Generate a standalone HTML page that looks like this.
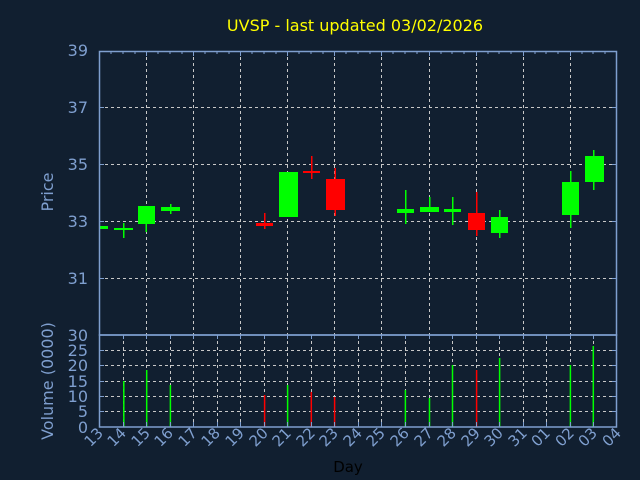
<!DOCTYPE html>
<html><head><meta charset="utf-8"><style>
html,body{margin:0;padding:0;background:#111f30;}
svg{display:block;font-family:"DejaVu Sans","Liberation Sans",sans-serif;}
</style></head><body>
<svg width="640" height="480" viewBox="0 0 640 480" xmlns="http://www.w3.org/2000/svg">
<rect width="640" height="480" fill="#111f30"/>
<text x="355" y="31" fill="#ffff00" font-size="16" text-anchor="middle">UVSP - last updated 03/02/2026</text>
<g stroke="#c8c8c8" stroke-width="1" stroke-dasharray="3,3" fill="none">
<path d="M99 107.5H617M99 164.5H617M99 221.5H617M99 278.5H617"/>
<path d="M146.5 51V335M193.5 51V335M240.5 51V335M287.5 51V335M334.5 51V335M381.5 51V335M429.5 51V335M476.5 51V335M523.5 51V335M570.5 51V335"/>
<path d="M99 350.5H617M99 365.5H617M99 381.5H617M99 396.5H617M99 411.5H617"/>
<path d="M123.5 335V427M146.5 335V427M170.5 335V427M193.5 335V427M217.5 335V427M240.5 335V427M264.5 335V427M287.5 335V427M311.5 335V427M334.5 335V427M358.5 335V427M381.5 335V427M405.5 335V427M429.5 335V427M452.5 335V427M476.5 335V427M499.5 335V427M523.5 335V427M546.5 335V427M570.5 335V427M593.5 335V427"/>
</g>
<!-- candles -->
<g fill="#00ff00">
<rect x="99" y="226" width="9" height="3"/>
<rect x="114" y="228" width="19" height="2"/><rect x="123" y="223" width="1.5" height="15"/>
<rect x="138" y="206" width="17" height="18"/><rect x="145.5" y="206" width="1.5" height="26"/>
<rect x="161" y="207" width="19" height="4"/><rect x="170" y="204" width="1.5" height="10"/>
<rect x="279" y="172" width="19" height="45"/>
<rect x="397" y="209" width="17" height="4"/><rect x="405" y="190" width="1.5" height="34"/>
<rect x="420" y="207" width="19" height="5"/><rect x="429" y="197" width="1.5" height="15"/>
<rect x="444" y="209" width="17" height="3"/><rect x="452" y="197" width="1.5" height="28"/>
<rect x="491" y="217" width="17" height="16"/><rect x="499" y="210" width="1.5" height="28"/>
<rect x="562" y="182" width="17" height="33"/><rect x="570" y="171" width="1.5" height="57"/>
<rect x="585" y="156" width="19" height="26"/><rect x="593" y="150" width="1.5" height="40"/>
</g>
<g fill="#ff0000">
<rect x="256" y="223" width="17" height="3"/><rect x="264" y="213" width="1.5" height="16"/>
<rect x="303" y="171" width="17" height="2"/><rect x="311" y="156" width="1.5" height="23"/>
<rect x="326" y="179" width="19" height="31"/><rect x="334.5" y="168" width="1.5" height="48"/>
<rect x="468" y="213" width="17" height="17"/><rect x="476" y="192" width="1.5" height="44"/>
</g>
<!-- volume -->
<g stroke-width="1.5">
<g stroke="#00ff00">
<path d="M123.8 427V381M146.7 427V370M170.4 427V385M287.6 427V385M405.4 427V390M429.5 427V398M452.5 427V365M499.6 427V358M570.4 427V365M593.3 427V346"/>
</g>
<g stroke="#ff0000">
<path d="M264.6 427V395M311.3 427V392M334.6 427V397M476.6 427V370"/>
</g>
</g>
<!-- frames -->
<g stroke="#7f9fcf" stroke-width="1.5" fill="none">
<rect x="99.5" y="51.5" width="517" height="283.5"/>
<rect x="99.5" y="335" width="517" height="92"/>
</g>
<g stroke="#7f9fcf" stroke-width="1">
<path d="M99 107.5h5M99 164.5h5M99 221.5h5M99 278.5h5M99 350.5h5M99 365.5h5M99 381.5h5M99 396.5h5M99 411.5h5"/>
<path d="M612 107.5h5M612 164.5h5M612 221.5h5M612 278.5h5M612 350.5h5M612 365.5h5M612 381.5h5M612 396.5h5M612 411.5h5"/>
<path d="M111 51v3M123 51v3M135 51v3M146.5 51v5M158 51v3M170 51v3M182 51v3M193.5 51v5M205 51v3M217 51v3M229 51v3M240.5 51v5M252 51v3M264 51v3M276 51v3M287.5 51v5M299 51v3M311 51v3M323 51v3M334.5 51v5M346 51v3M358 51v3M370 51v3M381.5 51v5M393 51v3M405 51v3M417 51v3M429.5 51v5M441 51v3M452 51v3M464 51v3M476.5 51v5M488 51v3M499 51v3M511 51v3M523.5 51v5M535 51v3M546 51v3M558 51v3M570.5 51v5M582 51v3M593 51v3M605 51v3"/>
<path d="M123.5 427v-5M146.5 427v-5M170.5 427v-5M193.5 427v-5M217.5 427v-5M240.5 427v-5M264.5 427v-5M287.5 427v-5M311.5 427v-5M334.5 427v-5M358.5 427v-5M381.5 427v-5M405.5 427v-5M429.5 427v-5M452.5 427v-5M476.5 427v-5M499.5 427v-5M523.5 427v-5M546.5 427v-5M570.5 427v-5M593.5 427v-5"/>
<path d="M123.5 335v4M146.5 335v4M170.5 335v4M193.5 335v4M217.5 335v4M240.5 335v4M264.5 335v4M287.5 335v4M311.5 335v4M334.5 335v4M358.5 335v4M381.5 335v4M405.5 335v4M429.5 335v4M452.5 335v4M476.5 335v4M499.5 335v4M523.5 335v4M546.5 335v4M570.5 335v4M593.5 335v4"/>
</g>
<g fill="#7f9fcf" font-size="16" text-anchor="end">
<text x="88" y="56">39</text>
<text x="88" y="113">37</text>
<text x="88" y="170">35</text>
<text x="88" y="227">33</text>
<text x="88" y="284">31</text>
<text x="88" y="341">30</text>
<text x="88" y="356">25</text>
<text x="88" y="371">20</text>
<text x="88" y="387">15</text>
<text x="88" y="402">10</text>
<text x="88" y="417">5</text>
<text x="88" y="433">0</text>
</g>
<g fill="#7f9fcf" font-size="16" text-anchor="middle">
<text transform="translate(53,192) rotate(-90)">Price</text>
<text transform="translate(53,381) rotate(-90)">Volume (0000)</text>
</g>
<g fill="#7f9fcf" font-size="15" text-anchor="end">
<text transform="translate(104,434) rotate(-45)">13</text>
<text transform="translate(127,434) rotate(-45)">14</text>
<text transform="translate(151,434) rotate(-45)">15</text>
<text transform="translate(174,434) rotate(-45)">16</text>
<text transform="translate(198,434) rotate(-45)">17</text>
<text transform="translate(221,434) rotate(-45)">18</text>
<text transform="translate(245,434) rotate(-45)">19</text>
<text transform="translate(269,434) rotate(-45)">20</text>
<text transform="translate(292,434) rotate(-45)">21</text>
<text transform="translate(316,434) rotate(-45)">22</text>
<text transform="translate(339,434) rotate(-45)">23</text>
<text transform="translate(363,434) rotate(-45)">24</text>
<text transform="translate(386,434) rotate(-45)">25</text>
<text transform="translate(410,434) rotate(-45)">26</text>
<text transform="translate(434,434) rotate(-45)">27</text>
<text transform="translate(457,434) rotate(-45)">28</text>
<text transform="translate(481,434) rotate(-45)">29</text>
<text transform="translate(504,434) rotate(-45)">30</text>
<text transform="translate(528,434) rotate(-45)">31</text>
<text transform="translate(551,434) rotate(-45)">01</text>
<text transform="translate(575,434) rotate(-45)">02</text>
<text transform="translate(598,434) rotate(-45)">03</text>
<text transform="translate(622,434) rotate(-45)">04</text>
</g>
<text x="348" y="472" fill="#000000" font-size="15" text-anchor="middle">Day</text>
</svg>
</body></html>
